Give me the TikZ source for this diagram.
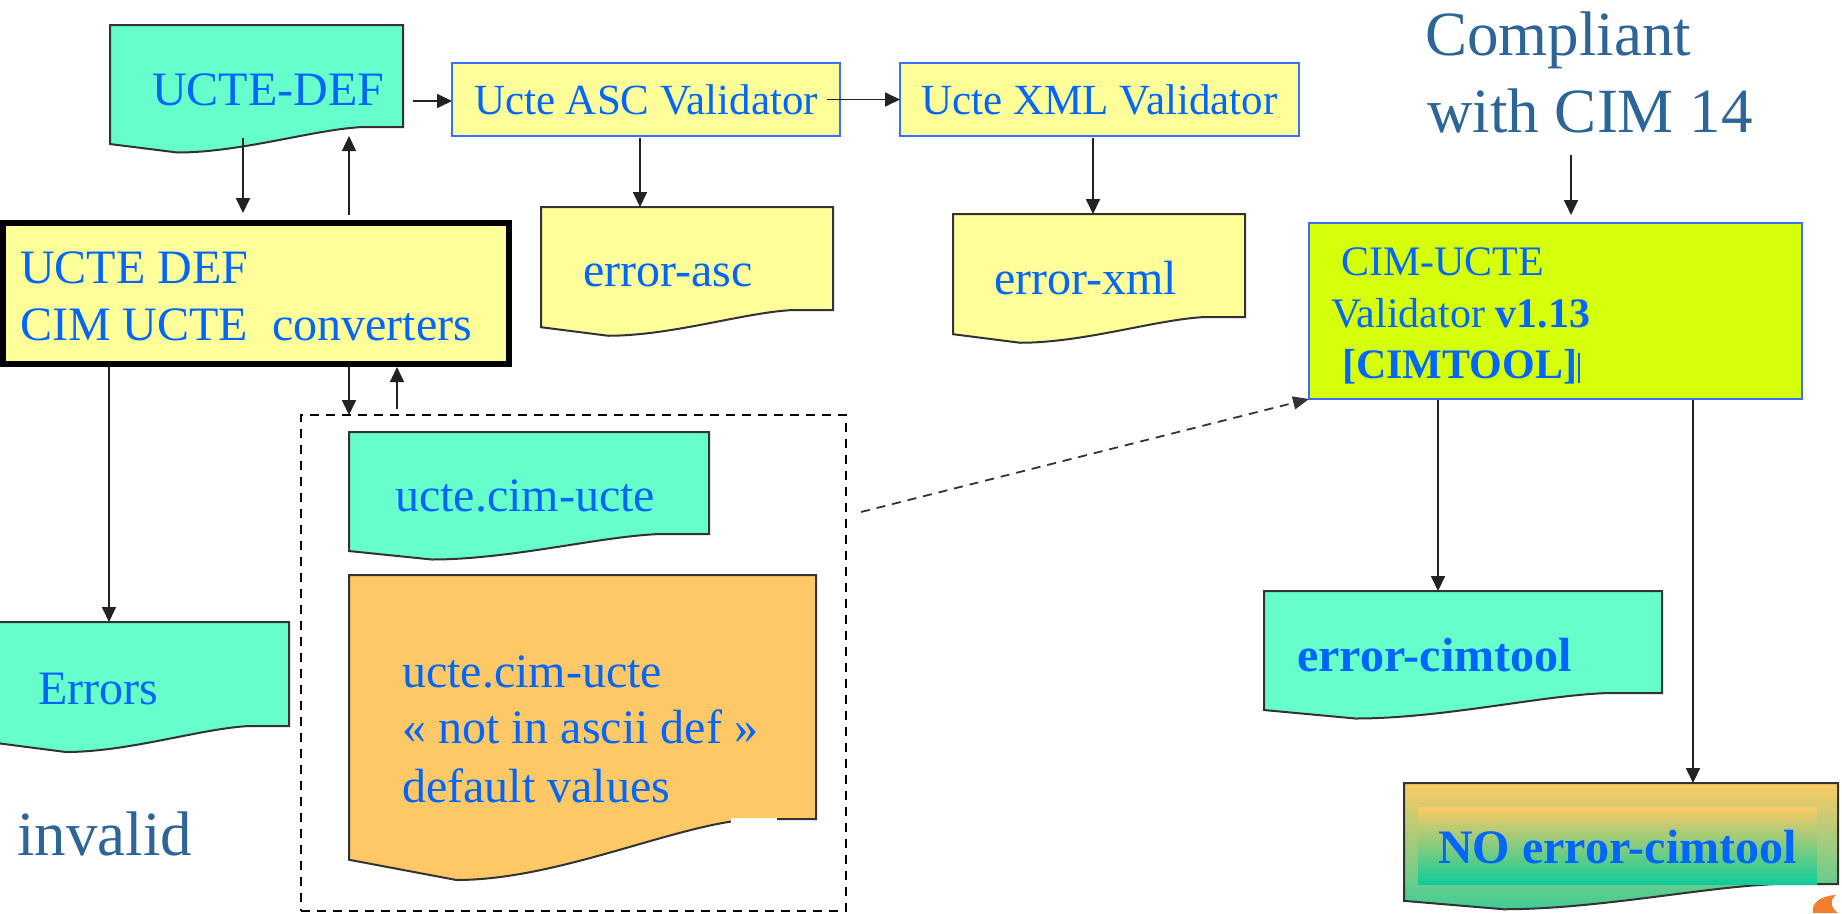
\documentclass[tikz,border=0pt]{standalone}
\usepackage{fontspec}
\setmainfont{Liberation Serif}
\usetikzlibrary{arrows.meta}
\definecolor{tblue}{RGB}{0,102,255}
\definecolor{sblue}{RGB}{46,101,153}
\definecolor{aqua}{RGB}{102,255,204}
\definecolor{lyellow}{RGB}{255,255,153}
\definecolor{limeC}{RGB}{213,255,10}
\definecolor{orangeF}{RGB}{253,200,101}
\definecolor{bborder}{RGB}{60,110,255}
\definecolor{dline}{RGB}{51,51,51}
\definecolor{arrowc}{RGB}{34,34,34}
\definecolor{gtop}{RGB}{252,203,102}
\definecolor{gbot}{RGB}{64,204,150}
\definecolor{gbot2}{RGB}{15,204,153}
\definecolor{blobC}{RGB}{240,128,48}
\newcommand\docshape[6]{%
  \pgfmathsetmacro\dW{#4-(#2)}%
  \pgfmathsetmacro\dH{#5-(#3)}%
  \path[docline,#6] (#2,#3) -- (#4,#3) -- (#4,#5) -- ({#2+0.865*\dW},#5)
    .. controls ({#2+0.7*\dW},{#5+0.02*\dH}) and ({#2+0.45*\dW},{#5+0.25*\dH}) .. ({#2+0.23*\dW},{#5+0.25*\dH})
    -- (#2,{#5+0.167*\dH}) -- cycle;
  \node[inner sep=0pt, outer sep=0pt, minimum width=\dW pt, minimum height=\dH pt, anchor=north west] (#1) at (#2,#3) {};
}
\begin{document}
\begin{tikzpicture}[x=1pt,y=-1pt,
  docline/.style={draw=dline, line width=2pt},
  vbox/.style={draw=bborder, line width=2.5pt, fill=lyellow, inner sep=0pt, outer sep=0pt, anchor=north west, text=tblue, font=\fontsize{43}{50}\selectfont},
  lbl/.style={text=tblue, anchor=base west, inner sep=0pt, font=\fontsize{48}{57}\selectfont},
  clbl/.style={text=tblue, anchor=base west, inner sep=0pt, font=\fontsize{42}{50}\selectfont},
  big/.style={text=sblue, anchor=base west, inner sep=0pt, font=\fontsize{63}{75}\selectfont},
  arr/.style={draw=arrowc, line width=1.8pt, -{Triangle[length=15pt,width=14pt]}},
  dasharr/.style={draw=dline, line width=1.8pt, dash pattern=on 9pt off 7pt, -{Triangle[length=16pt,width=13pt]}}
]
\useasboundingbox (0,0) rectangle (1842,913);
\fill[white] (0,0) rectangle (1842,913);

% documents
\docshape{ucte}{110}{25}{403}{127}{fill=aqua}
\docshape{easc}{541}{207}{833}{310}{fill=lyellow}
\docshape{exml}{953}{214}{1245}{317}{fill=lyellow}
\docshape{errors}{-1}{622}{289}{726}{fill=aqua}
\docshape{ucim}{349}{432}{709}{534}{fill=aqua}
\docshape{dflt}{349}{575}{816}{819}{fill=orangeF}
\fill[white] (731,818) rectangle (777,827);
\docshape{ecim}{1264}{591}{1662}{693}{fill=aqua}
\docshape{noerr}{1404}{783}{1838}{884}{top color=gtop, bottom color=gbot}
\shade[top color=gtop, bottom color=gbot2] (1418,807) rectangle (1817,884);

% boxes
\node[vbox, minimum width=388pt, minimum height=73pt] (asc) at (452,63) {Ucte ASC Validator};
\node[vbox, minimum width=399pt, minimum height=73pt] (xml) at (900,63) {Ucte XML Validator};
\node[draw=black, line width=6.5pt, fill=lyellow, inner sep=0pt, outer sep=0pt, anchor=north west, minimum width=506pt, minimum height=141pt] (conv) at (3,223) {};
\node[draw=bborder, line width=2.5pt, fill=limeC, inner sep=0pt, outer sep=0pt, anchor=north west, minimum width=493pt, minimum height=176pt] (cim) at (1309,223) {};
\node[draw=black, line width=2pt, dash pattern=on 9pt off 7pt, inner sep=0pt, outer sep=0pt, anchor=north west, minimum width=545pt, minimum height=496pt] (dbox) at (301,415) {};

% texts
\node[lbl] (tucte) at (152,105) {UCTE-DEF};
\node[lbl] (teasc) at (583,286) {error-asc};
\node[lbl] (texml) at (994,294) {error-xml};
\node[lbl] (tconv1) at (20,283) {UCTE DEF};
\node[lbl] (tconv2) at (20,340) {CIM UCTE\ \ converters};
\node[lbl] (tucim) at (395,511) {ucte.cim-ucte};
\node[lbl] (tdf1) at (402,687) {ucte.cim-ucte};
\node[lbl] (tdf2) at (402,743) {« not in ascii def »};
\node[lbl] (tdf3) at (402,802) {default values};
\node[lbl] (terr) at (38,704) {Errors};
\node[big] (tinv) at (17,855) {invalid};
\node[big] (comp1) at (1425,55) {Compliant};
\node[big] (comp2) at (1427,132) {with CIM 14};
\node[clbl] (tcim1) at (1341,275) {CIM-UCTE};
\node[clbl] (tcim2) at (1331,327) {Validator \textbf{v1.13}};
\node[clbl] (tcim3) at (1342,378) {\textbf{[CIMTOOL]}\kern0.5pt\rule[-5pt]{2.5pt}{30pt}};
\node[lbl, font=\fontsize{48}{57}\selectfont\bfseries] (tecim) at (1297,671) {error-cimtool};
\node[lbl, font=\fontsize{48}{57}\selectfont\bfseries] (tnoerr) at (1438,863) {NO error-cimtool};

% connectors
\coordinate (a1) at (413,101);
\draw[arr] (a1) -- (a1 -| asc.west);
\draw[arr] ([xshift=-13pt]asc.east) -- (xml.west);
\coordinate (a2) at (640,138);
\draw[arr] (a2) -- (a2 |- easc.north);
\coordinate (a3) at (1093,138);
\draw[arr] (a3) -- (a3 |- exml.north);
\coordinate (d1) at (243,138);
\draw[arr, shorten >=10pt] (d1) -- (d1 |- conv.north);
\coordinate (u1) at (349,215);
\draw[arr, line width=1.4pt, shorten >=9pt] (u1) -- (u1 |- ucte.south);
\coordinate (e1) at (109,367);
\draw[arr] (e1) -- (e1 |- errors.north);
\coordinate (c2) at (349,367);
\draw[arr] (c2) -- (c2 |- dbox.north);
\coordinate (c3) at (397,409);
\draw[arr, line width=1.4pt, shorten >=3pt] (c3) -- (c3 |- conv.south);
\coordinate (k1) at (1571,155);
\draw[arr, shorten >=8pt] (k1) -- (k1 |- cim.north);
\coordinate (k2) at (1438,400);
\draw[arr] (k2) -- (k2 |- ecim.north);
\coordinate (k3) at (1693,400);
\draw[arr] (k3) -- (k3 |- noerr.north);
\coordinate (k4) at (861,512);
\draw[dasharr] (k4) -- (cim.south west);

% corner blob
\fill[blobC] (1813,913) .. controls (1811,903) and (1820,896) .. (1836,895) .. controls (1829,900) and (1831,908) .. (1838,913) -- cycle;
\end{tikzpicture}
\end{document}
